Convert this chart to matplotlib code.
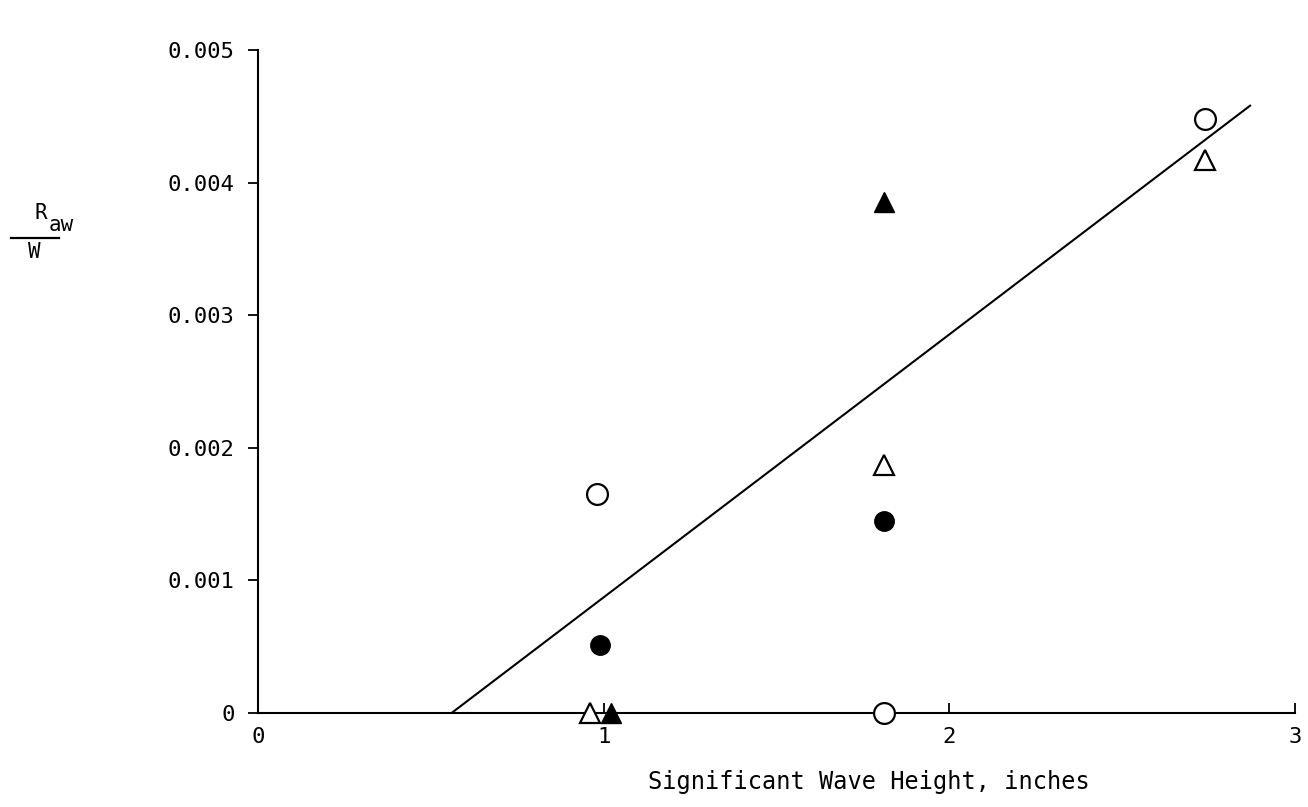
import matplotlib
matplotlib.use("Agg")
import matplotlib.pyplot as plt

# open circles
open_circle_x = [0.98, 1.81, 2.74]
open_circle_y = [0.00165, 0.0, 0.00448]
# filled circles
filled_circle_x = [0.99, 1.81]
filled_circle_y = [0.00051, 0.00145]
# open triangles
open_tri_x = [0.96, 1.81, 2.74]
open_tri_y = [0.0, 0.00187, 0.00417]
# filled triangles
filled_tri_x = [1.02, 1.81]
filled_tri_y = [0.0, 0.00385]

# fitted line end points
line_x = [0.56, 2.87]
line_y = [0.0, 0.00458]

x_ticks = [0, 1, 2, 3]
x_labels = ["0", "1", "2", "3"]
y_ticks = [0, 0.001, 0.002, 0.003, 0.004, 0.005]
y_labels = ["0", "0.001", "0.002", "0.003", "0.004", "0.005"]

FONT = "DejaVu Sans Mono"

fig = plt.figure(figsize=(13.08, 8.07), dpi=100)
ax = fig.add_axes([258 / 1308, 1 - 713 / 807, (1295 - 258) / 1308, (713 - 50) / 807])

ax.plot(line_x, line_y, color="black", lw=1.5, zorder=2)
ax.plot(open_circle_x, open_circle_y, "o", ms=15, mfc="white", mec="black", mew=1.6, zorder=3, clip_on=False)
ax.plot(filled_circle_x, filled_circle_y, "o", ms=14, mfc="black", mec="black", zorder=3, clip_on=False)
ax.plot(open_tri_x, open_tri_y, "^", ms=15, mfc="white", mec="black", mew=1.6, zorder=3, clip_on=False)
ax.plot(filled_tri_x, filled_tri_y, "^", ms=14, mfc="black", mec="black", zorder=3, clip_on=False)

ax.set_xlim(0, 3)
ax.set_ylim(0, 0.005)
ax.spines["top"].set_visible(False)
ax.spines["right"].set_visible(False)
ax.spines["left"].set_linewidth(1.5)
ax.spines["bottom"].set_linewidth(1.5)

ax.set_xticks(x_ticks)
ax.set_xticklabels(x_labels, fontfamily=FONT, fontsize=16)
ax.set_yticks(y_ticks)
ax.set_yticklabels(y_labels, fontfamily=FONT, fontsize=16)
ax.tick_params(axis="x", direction="in", length=7, width=1.3, pad=10)
ax.tick_params(axis="y", direction="out", length=7, width=1.3, pad=10)

fig.text(869 / 1308, 1 - 782 / 807, "Significant Wave Height, inches",
         fontfamily=FONT, fontsize=17, ha="center", va="center")

# R_aw / W label
fig.text(41 / 1308, 1 - 213 / 807, "R", fontfamily=FONT, fontsize=15, ha="center", va="center")
fig.text(61 / 1308, 1 - 225 / 807, "aw", fontfamily=FONT, fontsize=15, ha="center", va="center")
fig.add_artist(plt.Line2D([11 / 1308, 59 / 1308], [1 - 238 / 807, 1 - 238 / 807], color="black", lw=1.6))
fig.text(34 / 1308, 1 - 252 / 807, "W", fontfamily=FONT, fontsize=15, ha="center", va="center")

fig.savefig("out.png", dpi=100)
